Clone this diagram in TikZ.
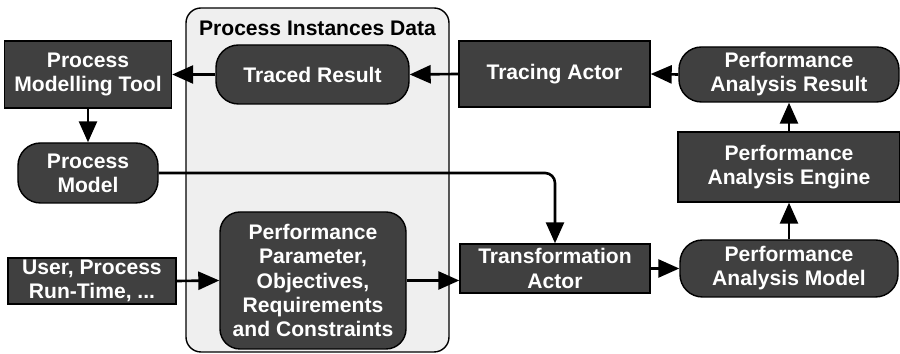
\documentclass[tikz,border=0pt]{standalone}
\usepackage{fontspec}
\setmainfont{Liberation Sans}
\usetikzlibrary{arrows.meta}
\definecolor{boxfill}{HTML}{404040}
\definecolor{groupfill}{HTML}{EFEFEF}
\tikzstyle{actor} = [rectangle, draw=black, fill=boxfill, line width=0.8pt, text=white, align=center, inner sep=0pt, font=\bfseries\fontsize{12}{13.7}\selectfont]
\tikzstyle{artifact} = [actor, rounded corners=0.45cm]
\tikzstyle{group} = [rectangle, rounded corners=0.3cm, draw=black, fill=groupfill, line width=0.8pt, inner sep=0pt]
\tikzstyle{arrow} = [line width=1.5pt, -{Triangle[length=0.42cm, width=0.36cm]}]

\begin{document}
\begin{tikzpicture}
	\useasboundingbox (0, 0) rectangle (18, 7.08);
	\node (pidata) at (6.35, 3.48) [group, minimum width=5.26cm, minimum height=6.88cm] {};
	\node (pidatatitle) at (6.35, 6.52) [font=\bfseries\fontsize{12}{13.7}\selectfont] {Process Instances Data};
	\node (pmtool) at (1.76, 5.59) [actor, minimum width=3.34cm, minimum height=1.34cm] {Process\\Modelling Tool};
	\node (traced) at (6.25, 5.59) [artifact, minimum width=3.86cm, minimum height=1.18cm] {Traced Result};
	\node (tracing) at (11.09, 5.6) [actor, minimum width=3.82cm, minimum height=1.32cm] {Tracing Actor};
	\node (paresult) at (15.78, 5.59) [artifact, minimum width=4.4cm, minimum height=1.1cm] {Performance\\Analysis Result};
	\node (paengine) at (15.78, 3.74) [actor, minimum width=4.44cm, minimum height=1.4cm] {Performance\\Analysis Engine};
	\node (pamodel) at (15.78, 1.71) [artifact, minimum width=4.36cm, minimum height=1.14cm] {Performance\\Analysis Model};
	\node (transf) at (11.1, 1.71) [actor, minimum width=3.8cm, minimum height=0.98cm] {Transformation\\Actor};
	\node (pmodel) at (1.76, 3.62) [artifact, minimum width=2.8cm, minimum height=1.2cm] {Process\\Model};
	\node (user) at (1.84, 1.46) [actor, minimum width=3.36cm, minimum height=0.92cm] {User, Process\\Run-Time, ...};
	\node (perfparam) at (6.26, 1.47) [artifact, rounded corners=0.4cm, minimum width=3.72cm, minimum height=2.74cm] {Performance\\Parameter,\\Objectives,\\Requirements\\and Constraints};
	% connectors
	\draw [arrow] (traced.west) -- (pmtool.east);
	\draw [arrow] (tracing.west) -- (traced.east);
	\draw [arrow] (paresult.west) -- (tracing.east);
	\draw [arrow] (paengine.north) -- (paresult.south);
	\draw [arrow] (pamodel.north) -- (paengine.south);
	\draw [arrow] (transf.east) -- (pamodel.west);
	\draw [arrow] (pmtool.south) -- (pmodel.north);
	\draw [arrow, rounded corners=0.2cm] (pmodel.east) -| (transf.north);
	\draw [arrow] (user.east) -- (perfparam.west);
	\draw [arrow] (perfparam.east) -- (perfparam.east -| transf.west);
\end{tikzpicture}
\end{document}
